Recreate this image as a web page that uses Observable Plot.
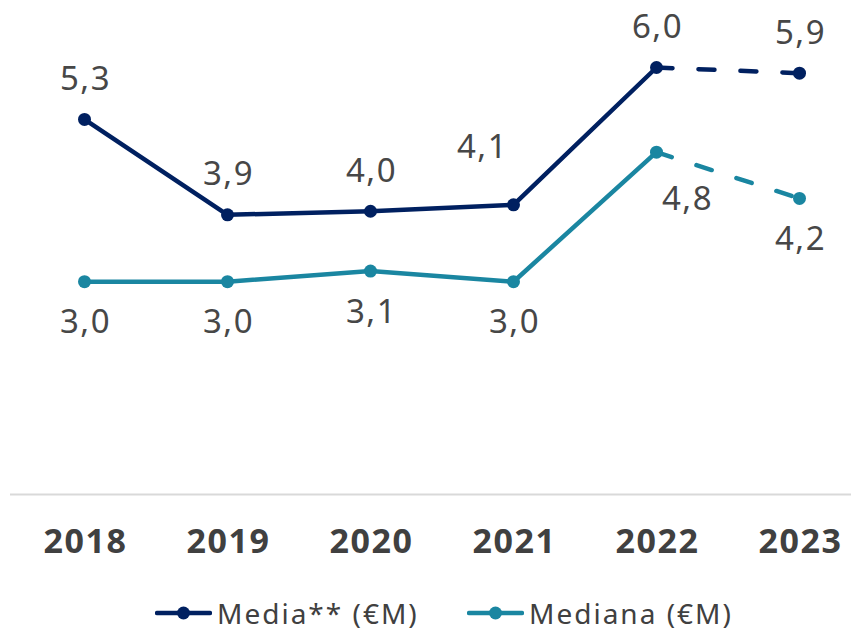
<!DOCTYPE html>
<html><head><meta charset="utf-8">
<script src="https://cdn.jsdelivr.net/npm/d3@7"></script>
<script src="https://cdn.jsdelivr.net/npm/@observablehq/plot@0.6"></script>
<style>
html,body{margin:0;padding:0;background:#fff;}
body{width:851px;height:632px;overflow:hidden;position:relative;font-family:"Noto Sans",sans-serif;}
#legend{position:absolute;left:0;top:596px;width:851px;height:34px;}
.item{position:absolute;top:0;height:34px;display:flex;align-items:center;font-size:28px;line-height:34px;letter-spacing:2px;color:#404040;white-space:nowrap;}
.item svg{margin-right:5px;}
#chart g[aria-label="text"] text{letter-spacing:1.5px;}
#chart g[aria-label="x-axis tick label"] text{letter-spacing:1.5px;}
</style></head><body>
<div id="chart"></div>
<div id="legend"></div>
<script>
const years = ["2018", "2019", "2020", "2021", "2022", "2023"];
const media = [5.27, 3.93, 3.98, 4.07, 6.0, 5.92];
const mediana = [2.99, 2.99, 3.14, 2.99, 4.81, 4.16];
const seriesNames = ["Media** (€M)", "Mediana (€M)"];
const seriesColors = ["#002060", "#1a86a1"];

const fmt = v => v.toFixed(1).replace(".", ",");
const rows = [];
years.forEach((y, i) => {
  rows.push({year: y, value: media[i], series: seriesNames[0], i});
  rows.push({year: y, value: mediana[i], series: seriesNames[1], i});
});
const isMedia = d => d.series === seriesNames[0];

const labelOpts = {x: "year", y: "value", text: d => fmt(d.value), fontSize: 33, fill: "#474747"};
const label = (filter, dx, dy) => Plot.text(rows.filter(filter), {...labelOpts, dx, dy});

const chart = Plot.plot({
  width: 851,
  height: 596,
  marginTop: 67,
  marginBottom: 102,
  marginLeft: 82,
  marginRight: 51,
  style: {fontFamily: "'Noto Sans', sans-serif", background: "#fff"},
  x: {type: "point", domain: years, padding: 0, label: null},
  y: {domain: [0, 6], axis: null},
  color: {domain: seriesNames, range: seriesColors},
  marks: [
    Plot.ruleY([0], {stroke: "#d9d9d9", strokeWidth: 2, insetLeft: -72, insetRight: -51}),
    Plot.axisX({tickSize: 0, tickPadding: 34, fontSize: 34, fontWeight: 700, fill: "#404040", label: null, dx: 1}),
    Plot.line(rows.filter(d => d.i <= 4), {x: "year", y: "value", z: "series", stroke: "series", strokeWidth: 4.5}),
    Plot.line(rows.filter(d => d.i >= 4), {x: "year", y: "value", z: "series", stroke: "series", strokeWidth: 4.5, strokeDasharray: "16,26", strokeLinecap: "round"}),
    Plot.dot(rows, {x: "year", y: "value", fill: "series", r: 6.5}),
    label(d => isMedia(d) && d.i !== 3, 1, -40),
    label(d => isMedia(d) && d.i === 3, -31, -57),
    label(d => !isMedia(d) && d.i !== 4, 1, 41),
    label(d => !isMedia(d) && d.i === 4, 31, 47)
  ]
});
document.getElementById("chart").appendChild(chart);

const legend = document.getElementById("legend");
const lefts = [155, 467];
seriesNames.forEach((name, k) => {
  const item = document.createElement("div");
  item.className = "item";
  item.style.left = lefts[k] + "px";
  item.innerHTML = `<svg width="57" height="16"><line x1="2" y1="8" x2="55" y2="8" stroke="${seriesColors[k]}" stroke-width="4.5" stroke-linecap="round"/><circle cx="28.5" cy="8" r="6.5" fill="${seriesColors[k]}"/></svg><span>${name}</span>`;
  legend.appendChild(item);
});
</script>
</body></html>
